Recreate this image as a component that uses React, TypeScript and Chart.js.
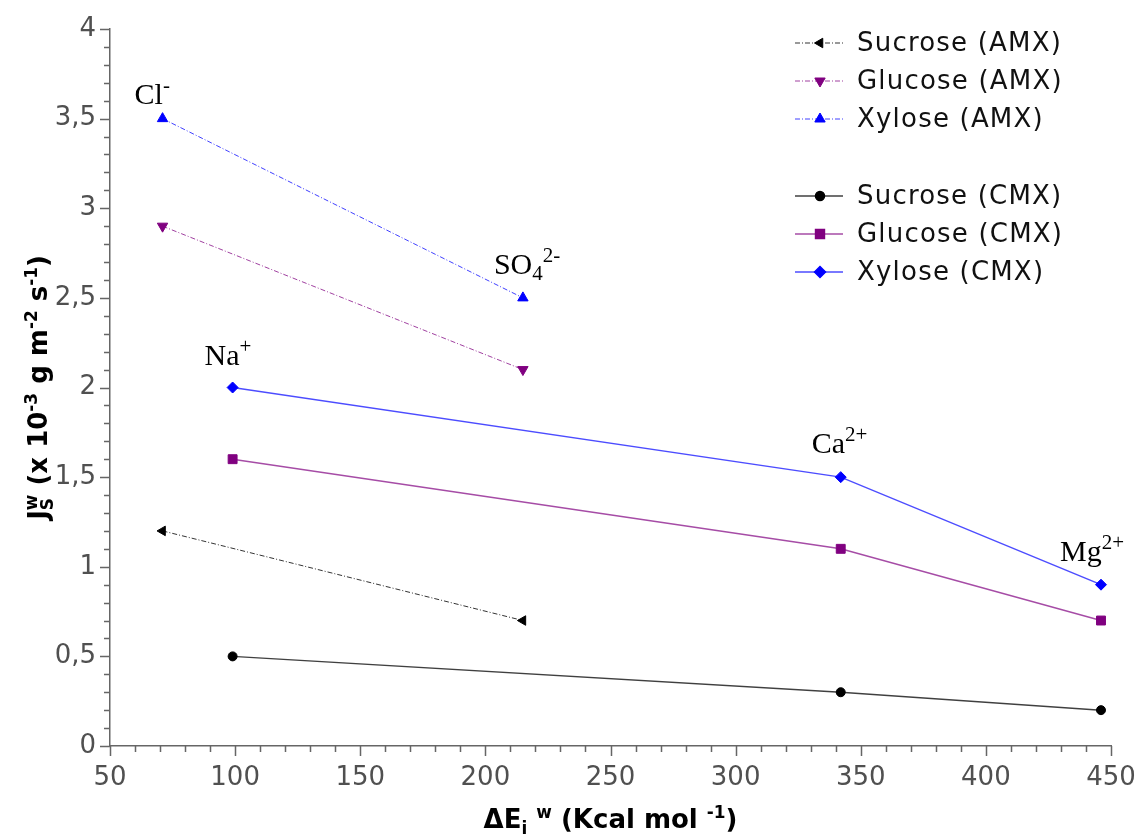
import React, { useEffect, useRef } from 'react';
import { Chart, registerables } from 'chart.js';
import { drawPoint } from 'chart.js/helpers';

Chart.register(...registerables);

// ---- data ----
const amxX = [71, 215];
const cmxX = [99, 342, 446];
const sucroseAMX = [1.2, 0.7];
const glucoseAMX = [2.9, 2.1];
const xyloseAMX = [3.5, 2.5];
const sucroseCMX = [0.5, 0.3, 0.2];
const glucoseCMX = [1.6, 1.1, 0.7];
const xyloseCMX = [2.0, 1.5, 0.9];
const xTickValues = [50, 100, 150, 200, 250, 300, 350, 400, 450];
const yTickValues = [0, 0.5, 1, 1.5, 2, 2.5, 3, 3.5, 4];
const seriesLabels = [
  'Sucrose (AMX)',
  'Glucose (AMX)',
  'Xylose (AMX)',
  'Sucrose (CMX)',
  'Glucose (CMX)',
  'Xylose (CMX)',
];
// ion annotations: [segments, dataset index, point index]
type Seg = [string, 'n' | 'sup' | 'sub' | 'subsup'];
const ionLabels: { segs: Seg[]; ds: number; pt: number }[] = [
  { segs: [['Cl', 'n'], ['-', 'sup']], ds: 2, pt: 0 },
  { segs: [['SO', 'n'], ['4', 'sub'], ['2-', 'sup']], ds: 2, pt: 1 },
  { segs: [['Na', 'n'], ['+', 'sup']], ds: 5, pt: 0 },
  { segs: [['Ca', 'n'], ['2+', 'sup']], ds: 5, pt: 1 },
  { segs: [['Mg', 'n'], ['2+', 'sup']], ds: 5, pt: 2 },
];
const xTitle: Seg[] = [['ΔE', 'n'], ['i', 'sub'], [' ', 'n'], ['w', 'sup'], [' (Kcal mol ', 'n'], ['-1', 'sup'], [')', 'n']];
const yTitle: Seg[] = [['J', 'n'], ['S|w', 'subsup'], [' (x 10', 'n'], ['-3', 'sup'], [' g m', 'n'], ['-2', 'sup'], [' s', 'n'], ['-1', 'sup'], [')', 'n']];

const SANS = '"DejaVu Sans", "Open Sans", sans-serif';
const SERIF = '"Liberation Serif", "Times New Roman", serif';

function fontStr(size: number, family: string, weight: string) {
  return `${weight} ${size}px ${family}`;
}

function richWidth(ctx: CanvasRenderingContext2D, segs: Seg[], size: number, family: string, weight: string, ratio = 0.65) {
  let w = 0;
  for (const [t, k] of segs) {
    if (k === 'n') {
      ctx.font = fontStr(size, family, weight);
      w += ctx.measureText(t).width;
    } else if (k === 'subsup') {
      ctx.font = fontStr(size * ratio, family, weight);
      const [a, b] = t.split('|');
      w += Math.max(ctx.measureText(a).width, ctx.measureText(b).width);
    } else {
      ctx.font = fontStr(size * ratio, family, weight);
      w += ctx.measureText(t).width;
    }
  }
  return w;
}

function drawRich(ctx: CanvasRenderingContext2D, segs: Seg[], x: number, y: number, size: number, family: string, weight: string, color: string, ratio = 0.65) {
  ctx.fillStyle = color;
  ctx.textBaseline = 'alphabetic';
  ctx.textAlign = 'left';
  let cx = x;
  const small = size * ratio;
  for (const [t, k] of segs) {
    if (k === 'n') {
      ctx.font = fontStr(size, family, weight);
      ctx.fillText(t, cx, y);
      cx += ctx.measureText(t).width;
    } else if (k === 'sup') {
      ctx.font = fontStr(small, family, weight);
      ctx.fillText(t, cx, y - size * 0.4);
      cx += ctx.measureText(t).width;
    } else if (k === 'sub') {
      ctx.font = fontStr(small, family, weight);
      ctx.fillText(t, cx, y + size * 0.22);
      cx += ctx.measureText(t).width;
    } else {
      ctx.font = fontStr(small, family, weight);
      const [a, b] = t.split('|');
      ctx.fillText(a, cx, y + size * 0.22);
      ctx.fillText(b, cx, y - size * 0.4);
      cx += Math.max(ctx.measureText(a).width, ctx.measureText(b).width);
    }
  }
}

const decorPlugin = {
  id: 'decor',
  afterDraw(chart: any) {
    const { ctx, chartArea } = chart;
    const xs = chart.scales.x;
    const ys = chart.scales.y;
    ctx.save();
    // minor / major ticks
    ctx.strokeStyle = '#666';
    ctx.lineWidth = 1.5;
    ctx.beginPath();
    for (let i = 0; i <= 40; i++) {
      const v = 50 + i * 10;
      const px = Math.round(xs.getPixelForValue(v)) + 0.5;
      const len = i % 5 === 0 ? 10 : 6;
      ctx.moveTo(px, chartArea.bottom);
      ctx.lineTo(px, chartArea.bottom + len);
    }
    for (let i = 0; i <= 40; i++) {
      const v = i * 0.1;
      const py = Math.round(ys.getPixelForValue(v)) + 0.5;
      const len = i % 5 === 0 ? 10 : 6;
      ctx.moveTo(chartArea.left, py);
      ctx.lineTo(chartArea.left - len, py);
    }
    ctx.stroke();

    // axis titles
    const tsz = 26;
    const xw = richWidth(ctx, xTitle, tsz, SANS, 'bold');
    drawRich(ctx, xTitle, (chartArea.left + chartArea.right) / 2 - xw / 2, chartArea.bottom + 82, tsz, SANS, 'bold', '#000');
    const yw = richWidth(ctx, yTitle, tsz, SANS, 'bold');
    ctx.save();
    ctx.translate(47, (chartArea.top + chartArea.bottom) / 2);
    ctx.rotate(-Math.PI / 2);
    drawRich(ctx, yTitle, -yw / 2, 0, tsz, SANS, 'bold', '#000');
    ctx.restore();

    // ion labels
    const offsets = [[-28, -15], [-29, -24], [-28, -23], [-29, -24], [-41, -24]];
    ionLabels.forEach((lab, i) => {
      const el = chart.getDatasetMeta(lab.ds).data[lab.pt];
      drawRich(ctx, lab.segs, el.x + offsets[i][0], el.y + offsets[i][1], 30, SERIF, 'normal', '#000', 0.7);
    });

    // legend
    const lx = chartArea.right - 316;
    const rowY = [43, 81, 119, 196, 234, 272];
    chart.data.datasets.forEach((ds: any, i: number) => {
      const y = rowY[i];
      ctx.save();
      ctx.strokeStyle = ds.borderColor;
      ctx.lineWidth = ds.borderWidth;
      ctx.setLineDash(ds.borderDash || []);
      ctx.beginPath();
      ctx.moveTo(lx, y);
      ctx.lineTo(lx + 48, y);
      ctx.stroke();
      ctx.setLineDash([]);
      ctx.fillStyle = ds.pointBackgroundColor;
      ctx.strokeStyle = ds.pointBorderColor;
      drawPoint(ctx, { pointStyle: ds.pointStyle, rotation: ds.pointRotation || 0, radius: ds.pointRadius, borderWidth: 1 }, lx + 25, y);
      ctx.restore();
      ctx.save();
      ctx.fillStyle = '#111';
      ctx.font = fontStr(26, SANS, 'normal');
      (ctx as any).letterSpacing = '1.2px';
      ctx.textBaseline = 'middle';
      ctx.textAlign = 'left';
      ctx.fillText(ds.label, lx + 62, y + 1);
      ctx.restore();
    });
    ctx.restore();
  },
};

function mk(label: string, xsArr: number[], ys: number[], line: string, point: string, style: string, rot: number, radius: number, dashed: boolean) {
  return {
    label,
    data: xsArr.map((x, i) => ({ x, y: ys[i] })),
    borderColor: line,
    borderWidth: dashed ? 1 : 1.5,
    borderDash: dashed ? [5, 2, 1, 2] : [],
    pointStyle: style,
    pointRotation: rot,
    pointRadius: radius,
    pointBackgroundColor: point,
    pointBorderColor: point,
    pointBorderWidth: 1,
    showLine: true,
    fill: false,
    tension: 0,
  };
}

export default function App() {
  const ref = useRef<HTMLCanvasElement | null>(null);
  useEffect(() => {
    if (!ref.current) return;
    const datasets = [
      mk(seriesLabels[0], amxX, sucroseAMX, 'rgba(0,0,0,0.8)', '#000000', 'triangle', -90, 5.5, true),
      mk(seriesLabels[1], amxX, glucoseAMX, 'rgba(128,0,128,0.75)', '#800080', 'triangle', 180, 6, true),
      mk(seriesLabels[2], amxX, xyloseAMX, 'rgba(0,0,255,0.75)', '#0000ff', 'triangle', 0, 6, true),
      mk(seriesLabels[3], cmxX, sucroseCMX, 'rgba(0,0,0,0.75)', '#000000', 'circle', 0, 4.5, false),
      mk(seriesLabels[4], cmxX, glucoseCMX, 'rgba(128,0,128,0.7)', '#800080', 'rect', 0, 6.3, false),
      mk(seriesLabels[5], cmxX, xyloseCMX, 'rgba(0,0,255,0.7)', '#0000ff', 'rectRot', 0, 5.5, false),
    ];
    const chart = new Chart(ref.current, {
      type: 'scatter',
      data: { datasets: datasets as any },
      options: {
        responsive: false,
        animation: false,
        layout: { padding: { top: 29, right: 30, left: 0, bottom: 0 } },
        plugins: { legend: { display: false }, tooltip: { enabled: false } },
        scales: {
          x: {
            type: 'linear',
            min: xTickValues[0],
            max: xTickValues[xTickValues.length - 1],
            grid: { display: false, drawTicks: false },
            border: { display: true, color: '#666', width: 1.5 },
            afterBuildTicks: (s: any) => { s.ticks = xTickValues.map((v) => ({ value: v })); },
            ticks: { color: '#505050', font: { family: SANS, size: 26 }, padding: 17, maxRotation: 0, autoSkip: false },
            afterFit: (s: any) => { s.height = 90; s.paddingLeft = 0; s.paddingRight = 0; },
          },
          y: {
            type: 'linear',
            min: yTickValues[0],
            max: yTickValues[yTickValues.length - 1],
            grid: { display: false, drawTicks: false },
            border: { display: true, color: '#666', width: 1.5 },
            afterBuildTicks: (s: any) => { s.ticks = yTickValues.map((v) => ({ value: v })); },
            ticks: {
              color: '#505050',
              font: { family: SANS, size: 26 },
              padding: 14,
              autoSkip: false,
              callback: (v: any) => String(v).replace('.', ','),
            },
            afterFit: (s: any) => { s.width = 110; s.paddingTop = 0; s.paddingBottom = 0; },
          },
        },
      },
      plugins: [decorPlugin],
    });
    return () => chart.destroy();
  }, []);
  return (
    <div style={{ position: 'absolute', left: 0, top: 0, width: 1141, height: 836, background: '#fff' }}>
      <canvas ref={ref} width={1141} height={836} style={{ display: 'block' }} />
    </div>
  );
}
